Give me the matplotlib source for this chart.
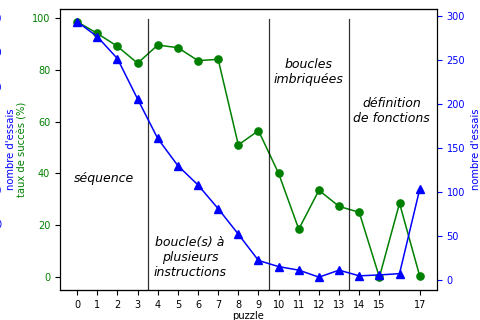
import matplotlib.pyplot as plt

puzzles = [0, 1, 2, 3, 4, 5, 6, 7, 8, 9, 10, 11, 12, 13, 14, 15, 16, 17]
taux_succes = [98.5, 94, 89, 82.5, 89.5, 88.5, 83.5, 84, 51, 56.5, 40, 18.5, 33.5, 27.3, 25, 0, 28.5, 0.5]
nb_essais = [294, 277, 252, 206, 161, 130, 108, 81, 52, 22, 15, 11, 3, 11, 4.5, 5.5, 7, 103]
ticks_x = [0, 1, 2, 3, 4, 5, 6, 7, 8, 9, 10, 11, 12, 13, 14, 15, 17]
separations = [3.5, 9.5, 13.5]

fig, ax1 = plt.subplots(figsize=(4.8, 3.2), dpi=100)
fig.subplots_adjust(left=0.125, right=0.91, top=0.972, bottom=0.094)

ax1.plot(puzzles, taux_succes, 'o-', color='green', markersize=5.2, lw=1.1)
ax1.set_ylabel('taux de succès (%)', color='green', fontsize=7.2, labelpad=3)
ax1.tick_params(axis='y', labelcolor='green', labelsize=7)
ax1.tick_params(axis='x', labelsize=7)
ax1.set_xticks(ticks_x)
ax1.set_xlabel('puzzle', fontsize=7.2, labelpad=1)
ax1.text(-0.13, 0.5, "nombre d'essais", color='blue', fontsize=7.2, rotation=90,
         transform=ax1.transAxes, ha='center', va='center')

for x in separations:
    ax1.axvline(x, ymax=0.965, color='k', lw=0.9, alpha=0.8)

ax2 = ax1.twinx()
ax2.plot(puzzles, nb_essais, '^-', color='blue', markersize=5.2, lw=1.1)
ax2.set_ylabel("nombre d'essais", color='blue', fontsize=7.2)
ax2.tick_params(axis='y', labelcolor='blue', color='blue', labelsize=7)

# restes des graduations d'un troisieme axe, coupees au bord gauche
ax3 = ax1.twinx()
ax3.set_ylim(-96, 313)
ax3.set_yticks([0, 50, 100, 150, 200, 250, 300])
ax3.yaxis.set_ticks_position('left')
ax3.spines['left'].set_position(('outward', 42))
ax3.spines['left'].set_visible(False)
ax3.spines['right'].set_visible(False)
ax3.tick_params(axis='y', labelcolor='blue', length=0, pad=0, labelsize=7)

ax1.text(1.35, 38, 'séquence', style='italic', fontsize=9, ha='center', va='center')
ax1.text(5.6, 7.5, 'boucle(s) à\nplusieurs\ninstructions', style='italic', fontsize=9,
         ha='center', va='center')
ax1.text(11.5, 79, 'boucles\nimbriquées', style='italic', fontsize=9, ha='center', va='center')
ax1.text(15.6, 64, 'définition\nde fonctions', style='italic', fontsize=9, ha='center', va='center')

plt.savefig('out.png')
